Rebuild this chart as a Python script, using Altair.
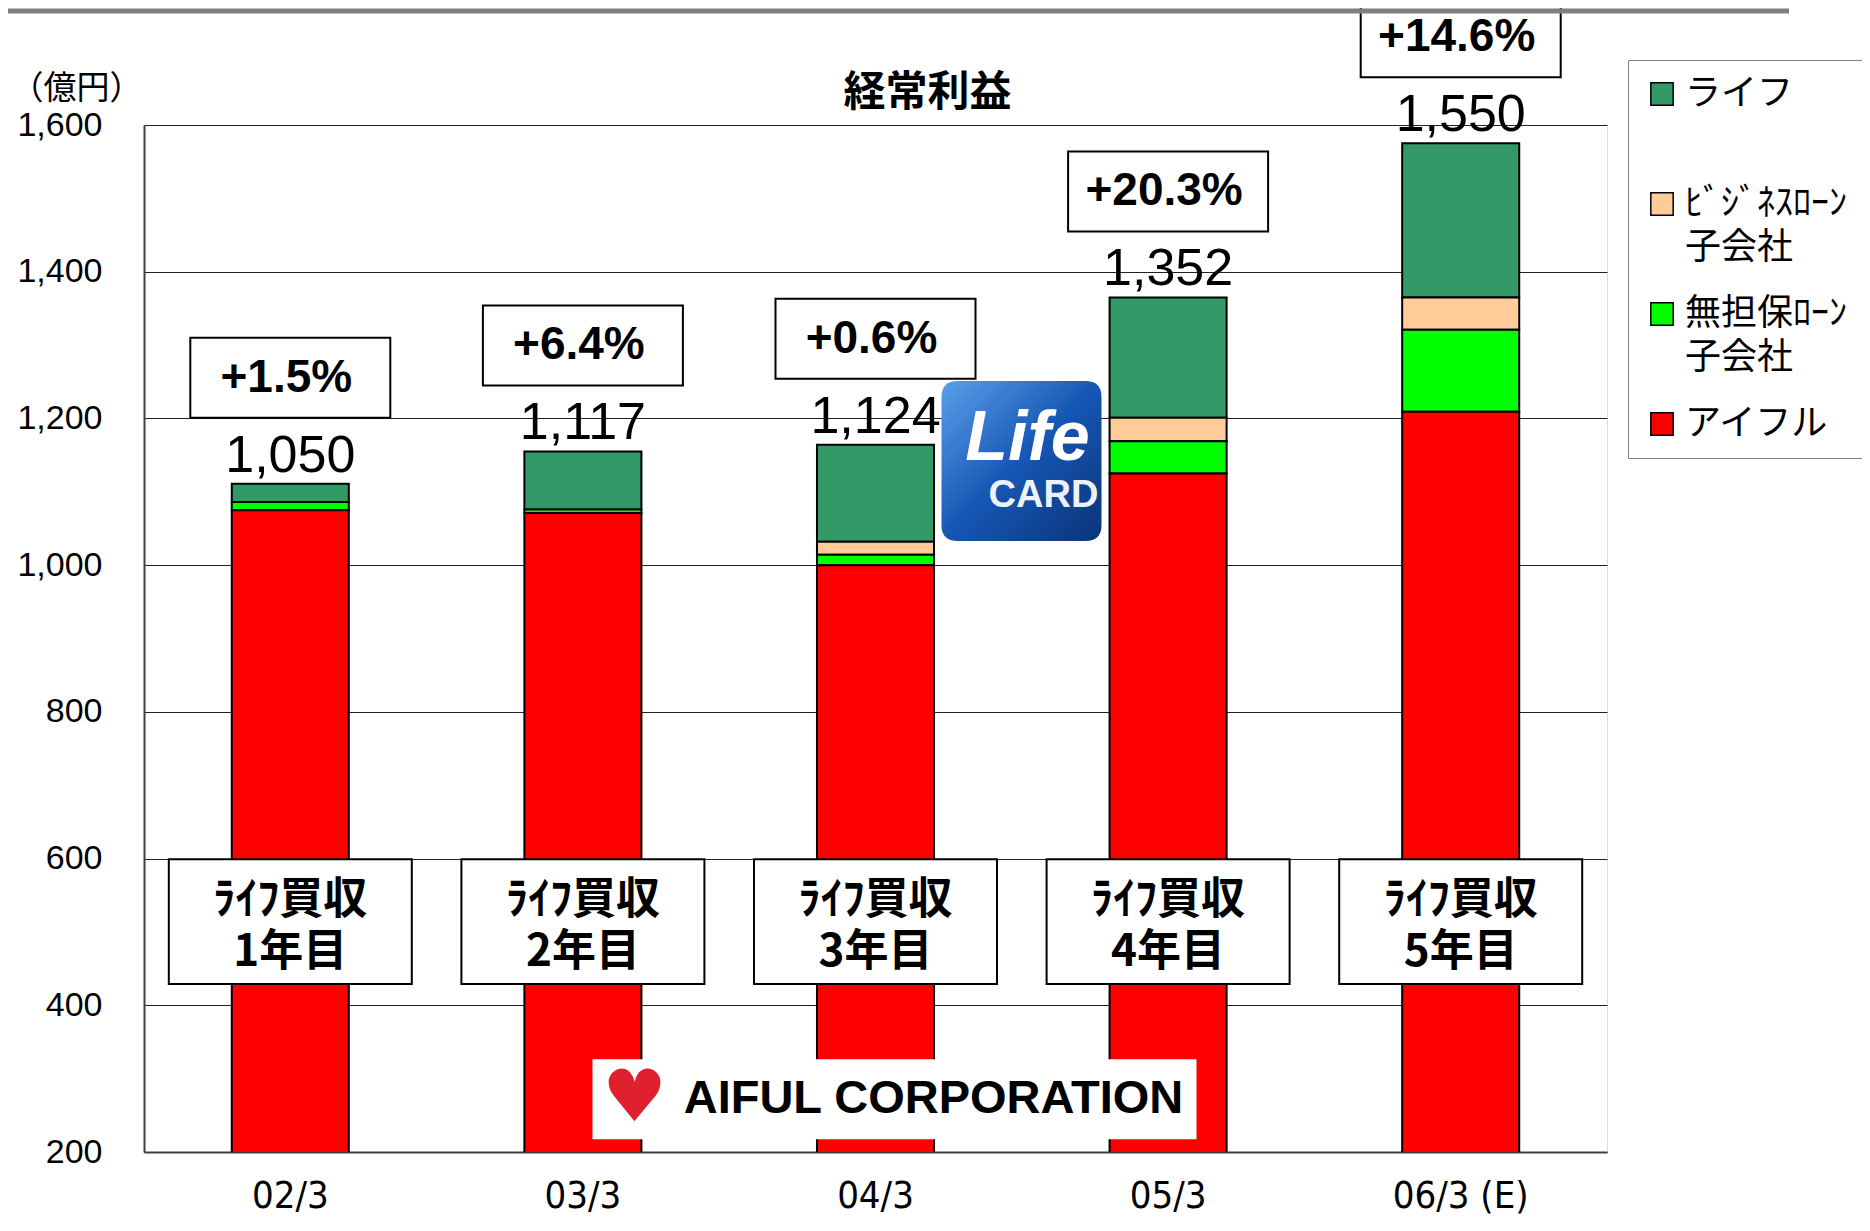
import altair as alt
import pandas as pd

# ---------------- data ----------------
categories = ["02/3", "03/3", "04/3", "05/3", "06/3 (E)"]
series = ["ライフ", "ﾋﾞｼﾞﾈｽﾛｰﾝ\n子会社", "無担保ﾛｰﾝ\n子会社", "アイフル"]
series_colors = ["#339966", "#FFCC99", "#00FF00", "#FF0000"]
stack_rank = [3, 2, 1, 0]  # アイフル at the bottom

aiful = [1075, 1071, 1000, 1125, 1209]
mutanpo = [11, 5, 14, 44, 112]
business = [0, 0, 18, 32, 44]
life = [25, 79, 132, 164, 210]

total_labels = ["1,050", "1,117", "1,124", "1,352", "1,550"]
growth_labels = ["+1.5%", "+6.4%", "+0.6%", "+20.3%", "+14.6%"]
year_labels = ["ﾗｲﾌ買収\n1年目", "ﾗｲﾌ買収\n2年目", "ﾗｲﾌ買収\n3年目", "ﾗｲﾌ買収\n4年目", "ﾗｲﾌ買収\n5年目"]
chart_title = "経常利益"
unit_label = "（億円）"

# ---------------- tables ----------------
values_by_series = {series[0]: life, series[1]: business, series[2]: mutanpo, series[3]: aiful}
rows = []
for s, rank in zip(series, stack_rank):
    for c, v in zip(categories, values_by_series[s]):
        if v > 0:
            rows.append({"cat": c, "series": s, "value": v, "rank": rank})
df = pd.DataFrame(rows)

totals = [a + b + c + d for a, b, c, d in zip(aiful, mutanpo, business, life)]
ann = pd.DataFrame({"cat": categories, "total": totals, "label": total_labels,
                    "growth": growth_labels, "year": year_labels})

W, H = 1463, 1027
JP = "Noto Sans CJK JP"
NUM = "Liberation Sans"
COND = "DejaVu Sans Condensed, Liberation Sans"

xscale = alt.Scale(domain=categories, paddingInner=0.6, paddingOuter=0.3)
yscale = alt.Scale(domain=[200, 1600], nice=False, zero=False)

X = alt.X("cat:N", scale=xscale, sort=categories,
          axis=alt.Axis(title=None, labelAngle=0, labelFont=COND,
                        labelFontSize=38, labelColor="black", labelPadding=55,
                        labelBaseline="alphabetic", ticks=False,
                        domainColor="#404040", domainWidth=2))
Y = alt.Y("value:Q", stack="zero", scale=yscale,
          axis=alt.Axis(title=unit_label, titleAngle=0, titleAlign="left",
                        titleBaseline="middle", titleX=-134, titleY=-37,
                        titleFont=JP, titleFontSize=33, titleFontWeight="normal",
                        titleColor="black",
                        values=[200, 400, 600, 800, 1000, 1200, 1400, 1600],
                        format=",d", labelFont=NUM, labelFontSize=34,
                        labelColor="black", labelPadding=42, ticks=False,
                        domainColor="#404040", domainWidth=2,
                        gridColor="#222222", gridWidth=1))

bars = alt.Chart(df).mark_bar(stroke="black", strokeWidth=2, clip=True).encode(
    x=X, y=Y,
    color=alt.Color("series:N",
                    scale=alt.Scale(domain=series, range=series_colors),
                    legend=alt.Legend(title=None, orient="none", legendX=1484, legendY=-65,
                                      direction="vertical", fillColor="white",
                                      strokeColor="#808080", padding=16,
                                      labelFont=JP, labelFontSize=36, labelColor="black",
                                      labelExpr="split(datum.label, '\\n')",
                                      labelLimit=400, labelOffset=5,
                                      symbolType="square", symbolSize=500,
                                      symbolStrokeColor="black", symbolStrokeWidth=1.5,
                                      rowPadding=30, gridAlign="all")),
    order=alt.Order("rank:Q"),
)

base = alt.Chart(ann)
xa = alt.X("cat:N", scale=xscale, sort=categories)
ya = alt.Y("total:Q", scale=yscale)

value_text = base.mark_text(font=NUM, fontSize=52, color="black", dy=-12,
                            baseline="alphabetic").encode(x=xa, y=ya, text="label:N")

box_path = "M-1,-0.4H1V0.4H-1Z"
growth_box = base.mark_point(shape=box_path, size=200 ** 2, filled=True, fill="white",
                             stroke="black", strokeWidth=2, opacity=1, yOffset=-106
                             ).encode(x=xa, y=ya)
growth_text = base.mark_text(font=NUM, fontSize=46, fontWeight="bold", color="black",
                             yOffset=-106, dx=-4, baseline="middle"
                             ).encode(x=xa, y=ya, text="growth:N")

year_path = "M-1,-0.514H1V0.514H-1Z"
year_box = base.mark_point(shape=year_path, size=243 ** 2, filled=True, fill="white",
                           stroke="black", strokeWidth=2, opacity=1
                           ).encode(x=xa, y=alt.Y(datum=514, scale=yscale))
year_text = base.mark_text(font=JP, fontSize=44, fontWeight="bold", color="black",
                           lineBreak="\n", lineHeight=52, baseline="middle", yOffset=-21
                           ).encode(x=xa, y=alt.Y(datum=514, scale=yscale), text="year:N")

# chart title (placed as text above the plot, centred a little right of the middle band)
one = alt.Chart(pd.DataFrame({"cat": ["04/3"]}))
title_text = one.mark_text(text=chart_title, font=JP, fontSize=42, fontWeight="bold",
                           color="black", xOffset=52, baseline="middle"
                           ).encode(x=xa, y=alt.Y(datum=1644, scale=yscale))

# AIFUL CORPORATION logo
logo_y = alt.Y(datum=272, scale=yscale)
logo_box = one.mark_point(shape="M-1,-0.1325H1V0.1325H-1Z", size=604 ** 2, filled=True,
                          fill="white", strokeWidth=0, opacity=1, xOffset=19
                          ).encode(x=xa, y=logo_y)
logo_heart = one.mark_text(text="♥", font="DejaVu Sans", fontSize=72, color="#E0202C",
                           xOffset=-241, baseline="middle").encode(x=xa, y=logo_y)
logo_text = one.mark_text(text="AIFUL CORPORATION", font=NUM,
                          fontSize=47, fontWeight="bold", color="black", xOffset=58,
                          baseline="middle").encode(x=xa, y=logo_y)

# Life CARD logo
life_y = alt.Y(datum=1142, scale=yscale)
rounded = ("M-0.8,-1H0.8Q1,-1 1,-0.8V0.8Q1,1 0.8,1H-0.8Q-1,1 -1,0.8V-0.8Q-1,-1 -0.8,-1Z")
life_box = one.mark_point(
    shape=rounded, size=160 ** 2, filled=True, opacity=1, strokeWidth=0, xOffset=146,
    fill=alt.LinearGradient(gradient="linear", x1=0, y1=0, x2=1, y2=1,
                            stops=[alt.GradientStop(color="#5aa0ea", offset=0),
                                   alt.GradientStop(color="#1656b4", offset=0.5),
                                   alt.GradientStop(color="#0a3478", offset=1)])
).encode(x=xa, y=life_y)
life_text = one.mark_text(text="Life", font="Liberation Sans", fontSize=70,
                          fontStyle="italic", fontWeight="bold", color="white",
                          xOffset=152, yOffset=-22, baseline="middle").encode(x=xa, y=life_y)
card_text = one.mark_text(text="CARD", font="Liberation Sans", fontSize=38,
                          fontWeight="bold", color="#EEF2F8", xOffset=168, yOffset=35,
                          baseline="middle").encode(x=xa, y=life_y)

top_line = alt.Chart(pd.DataFrame({"a": [0]})).mark_rule(color="#808080", strokeWidth=5).encode(
    x=alt.value(-136), x2=alt.value(1645), y=alt.value(-114))

chart = alt.layer(
    bars, value_text, growth_box, growth_text, year_box, year_text, title_text,
    logo_box, logo_heart, logo_text, life_box, life_text, card_text, top_line
).properties(
    width=W, height=H,
    autosize=alt.AutoSizeParams(type="none"),
    padding={"left": 136, "top": 117, "right": 255, "bottom": 66},
).configure_view(fill="#CCFFCC", stroke="#808080", strokeWidth=2
).configure(background="white", style={"guide-label": {"lineHeight": 44}})

chart.save("out.html", embed_options={"renderer": "svg", "actions": False})
